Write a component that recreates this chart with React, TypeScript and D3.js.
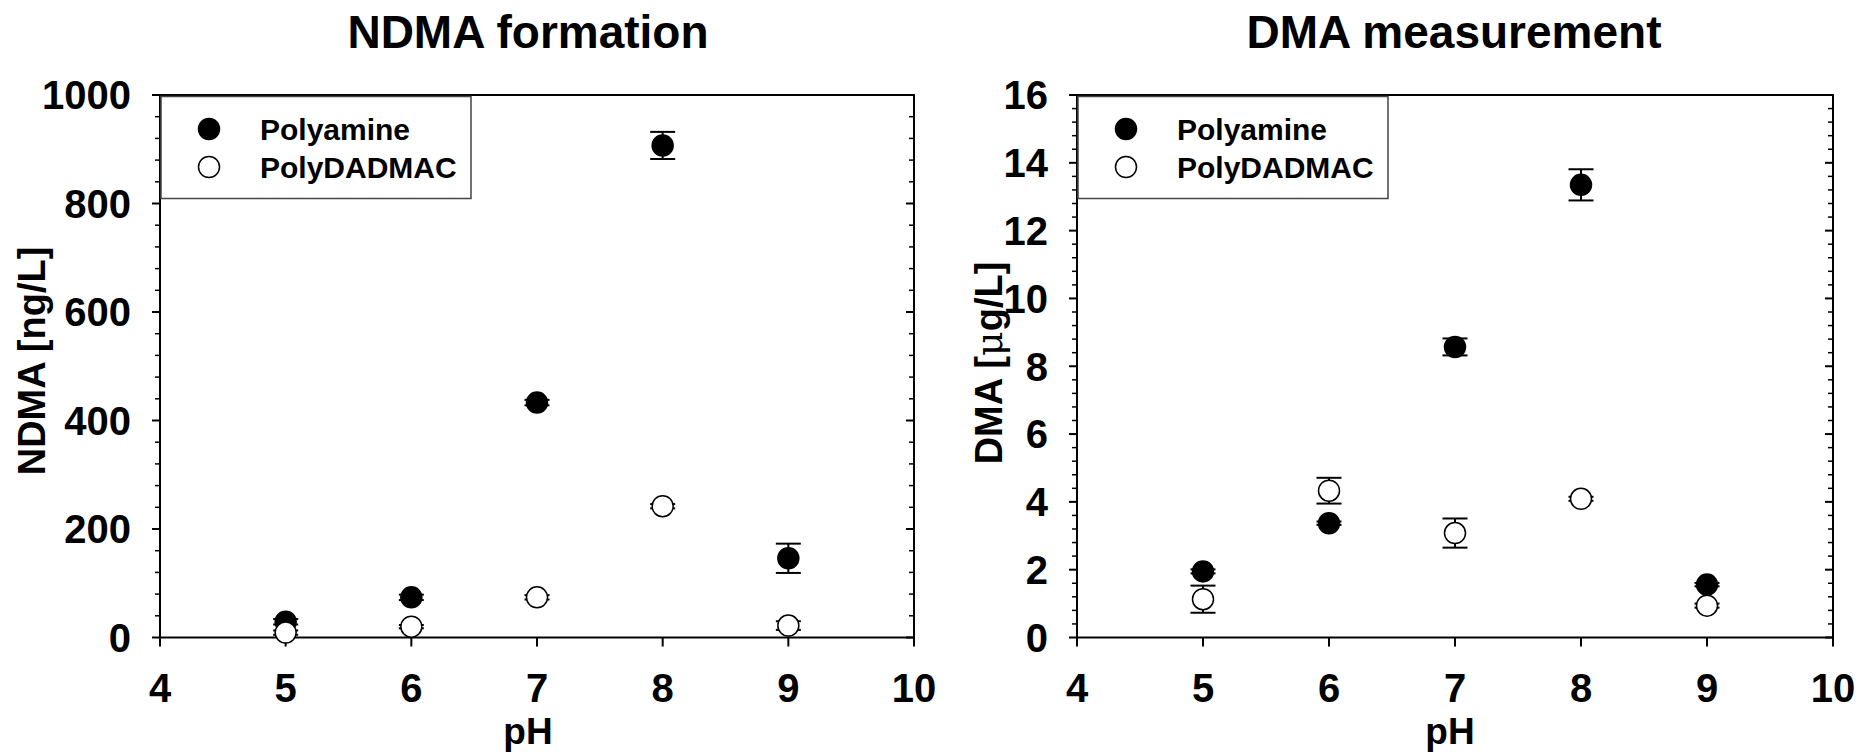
import React from "react";
import * as d3 from "d3";

const phValues = [5, 6, 7, 8, 9];
const xTicks = [4, 5, 6, 7, 8, 9, 10];

const ndmaPolyamine = [29, 74, 433, 907, 146];
const ndmaPolyamineErr = [5, 5, 5, 25, 27];
const ndmaPolyDADMAC = [9, 20, 74, 242, 22];
const ndmaPolyDADMACErr = [4, 3, 4, 4, 8];
const ndmaYTicks = [0, 200, 400, 600, 800, 1000];

const dmaPolyamine = [1.95, 3.37, 8.57, 13.35, 1.56];
const dmaPolyamineErr = [0.06, 0.05, 0.25, 0.46, 0.05];
const dmaPolyDADMAC = [1.13, 4.33, 3.08, 4.09, 0.94];
const dmaPolyDADMACErr = [0.4, 0.38, 0.43, 0.06, 0.06];
const dmaYTicks = [0, 2, 4, 6, 8, 10, 12, 14, 16];

const seriesNames = ["Polyamine", "PolyDADMAC"];

const FONT = "'Liberation Sans', Arial, Helvetica, sans-serif";

type PanelProps = {
  x0: number;
  x1: number;
  y0: number;
  y1: number;
  yMax: number;
  yTicks: number[];
  minorStep: number;
  title: string;
  titleX: number;
  yLabel: React.ReactNode;
  yLabelX: number;
  yLabelY: number;
  pHX: number;
  filled: number[];
  filledErr: number[];
  open: number[];
  openErr: number[];
};

function Panel(p: PanelProps) {
  const x = d3.scaleLinear().domain([4, 10]).range([p.x0, p.x1]);
  const y = d3.scaleLinear().domain([0, p.yMax]).range([p.y1, p.y0]);
  const minors = d3.range(0, p.yMax + p.minorStep / 2, p.minorStep).filter(
    (v) => !p.yTicks.some((t) => Math.abs(t - v) < 1e-9)
  );
  const r = 10.5;
  const cap = 12.5;
  const errBars = (vals: number[], errs: number[], key: string) =>
    phValues.map((ph, i) => {
      const cx = x(ph);
      const yt = y(vals[i] + errs[i]);
      const yb = y(vals[i] - errs[i]);
      return (
        <g key={key + i} stroke="#000" strokeWidth={2}>
          <line x1={cx} x2={cx} y1={yt} y2={yb} />
          <line x1={cx - cap} x2={cx + cap} y1={yt} y2={yt} />
          <line x1={cx - cap} x2={cx + cap} y1={yb} y2={yb} />
        </g>
      );
    });
  return (
    <g fontFamily={FONT} fontWeight="bold">
      <text x={p.titleX} y={48} textAnchor="middle" fontSize={46}>
        {p.title}
      </text>
      {/* frame */}
      <rect
        x={p.x0}
        y={p.y0}
        width={p.x1 - p.x0}
        height={p.y1 - p.y0}
        fill="none"
        stroke="#000"
        strokeWidth={2}
      />
      {/* left ticks */}
      {p.yTicks.map((t) => (
        <g key={"yt" + t}>
          <line x1={p.x0 - 8} x2={p.x0} y1={y(t)} y2={y(t)} stroke="#000" strokeWidth={2} />
          <line x1={p.x1 - 8} x2={p.x1} y1={y(t)} y2={y(t)} stroke="#000" strokeWidth={2} />
          <text x={p.x0 - 29} y={y(t)} dy="0.36em" textAnchor="end" fontSize={40}>
            {t}
          </text>
        </g>
      ))}
      {minors.map((t) => (
        <g key={"ym" + t}>
          <line x1={p.x0 - 5} x2={p.x0} y1={y(t)} y2={y(t)} stroke="#000" strokeWidth={1.5} />
          <line x1={p.x1 - 5} x2={p.x1} y1={y(t)} y2={y(t)} stroke="#000" strokeWidth={1.5} />
        </g>
      ))}
      {xTicks.map((t) => (
        <g key={"xt" + t}>
          <line x1={x(t)} x2={x(t)} y1={p.y1} y2={p.y1 + 9} stroke="#000" strokeWidth={2} />
          <text x={x(t)} y={702} textAnchor="middle" fontSize={40}>
            {t}
          </text>
        </g>
      ))}
      <text x={p.pHX} y={744} textAnchor="middle" fontSize={37}>
        pH
      </text>
      <text
        transform={`translate(${p.yLabelX},${p.yLabelY}) rotate(-90)`}
        textAnchor="middle"
        fontSize={38}
      >
        {p.yLabel}
      </text>
      {/* legend */}
      <rect
        x={p.x0 + 1}
        y={p.y0 + 1.5}
        width={310}
        height={102}
        fill="#fff"
        stroke="#444"
        strokeWidth={1.5}
      />
      <circle cx={p.x0 + 49} cy={129} r={r} fill="#000" stroke="#000" strokeWidth={1.5} />
      <circle cx={p.x0 + 49} cy={167} r={r} fill="#fff" stroke="#000" strokeWidth={1.5} />
      <text x={p.x0 + 100} y={140} fontSize={30}>
        {seriesNames[0]}
      </text>
      <text x={p.x0 + 100} y={178} fontSize={30}>
        {seriesNames[1]}
      </text>
      {/* data */}
      {errBars(p.filled, p.filledErr, "fe")}
      {errBars(p.open, p.openErr, "oe")}
      {phValues.map((ph, i) => (
        <circle key={"f" + i} cx={x(ph)} cy={y(p.filled[i])} r={r} fill="#000" stroke="#000" strokeWidth={1.5} />
      ))}
      {phValues.map((ph, i) => (
        <circle key={"o" + i} cx={x(ph)} cy={y(p.open[i])} r={r} fill="#fff" stroke="#000" strokeWidth={1.5} />
      ))}
    </g>
  );
}

export default function App() {
  return (
    <svg
      width={1858}
      height={756}
      style={{ position: "absolute", left: 0, top: 0, background: "#fff" }}
    >
      <rect x={0} y={0} width={1858} height={756} fill="#fff" />
      <Panel
        x0={160}
        x1={914}
        y0={95}
        y1={637.5}
        yMax={1000}
        yTicks={ndmaYTicks}
        minorStep={40}
        title="NDMA formation"
        titleX={528}
        yLabel="NDMA [ng/L]"
        yLabelX={45}
        yLabelY={361}
        pHX={528}
        filled={ndmaPolyamine}
        filledErr={ndmaPolyamineErr}
        open={ndmaPolyDADMAC}
        openErr={ndmaPolyDADMACErr}
      />
      <Panel
        x0={1077}
        x1={1833}
        y0={95}
        y1={637.5}
        yMax={16}
        yTicks={dmaYTicks}
        minorStep={0.4}
        title="DMA measurement"
        titleX={1454}
        yLabel={
          <>
            <tspan>DMA [</tspan>
            <tspan fontFamily="'DejaVu Serif', serif" fontWeight="normal">μ</tspan>
            <tspan>g/L]</tspan>
          </>
        }
        yLabelX={1002}
        yLabelY={363}
        pHX={1450}
        filled={dmaPolyamine}
        filledErr={dmaPolyamineErr}
        open={dmaPolyDADMAC}
        openErr={dmaPolyDADMACErr}
      />
    </svg>
  );
}
